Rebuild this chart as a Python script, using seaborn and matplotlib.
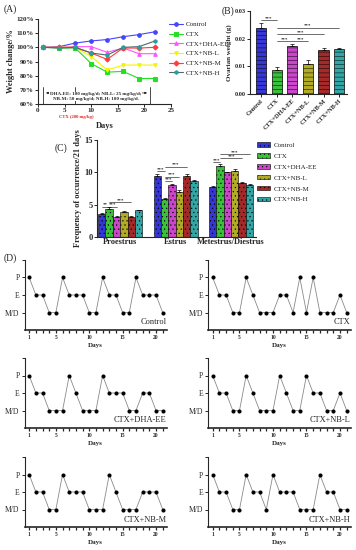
import numpy as np
import pandas as pd
import matplotlib
matplotlib.use("Agg")
import matplotlib.pyplot as plt
import seaborn as sns

sns.set_style("ticks")
plt.rcParams['font.family'] = ['Liberation Serif', 'DejaVu Serif']
plt.rcParams['hatch.linewidth'] = 0.35
plt.rcParams['axes.linewidth'] = 0.8

groups = ['Control', 'CTX', 'CTX+DHA-EE', 'CTX+NB-L', 'CTX+NB-M', 'CTX+NB-H']
bar_colors = ['#1c1cf0', '#22d822', '#e030e0', '#c8c010', '#b81414', '#20b8b8']
line_colors = ['#4444ff', '#22e022', '#ff55ff', '#f4f400', '#ff3c3c', '#2a9e9e']
line_markers = ['o', 's', '^', 'v', 'D', 'h']

# ---------------- (A) weight change ----------------
weigh_days = [1, 4, 7, 10, 13, 16, 19, 22]
w_control = [100, 100.5, 103, 104.5, 105.5, 107.5, 109, 111]
w_ctx = [100, 99.5, 99.5, 88.5, 82.5, 83, 78, 78]
w_dha = [100, 100, 100.5, 100.5, 96.5, 99.5, 95.5, 95.5]
w_nbl = [100, 100, 100, 93.5, 84, 87.5, 87.5, 87.5]
w_nbm = [100, 100, 100, 96, 91.5, 99.5, 99.5, 100]
w_nbh = [100, 99.5, 100, 96, 94.5, 100, 100.5, 104.5]

# ---------------- (B) ovarian weight ----------------
ov_weight = [0.0240, 0.0088, 0.0175, 0.0107, 0.0160, 0.0163]
ov_err = [0.0016, 0.0008, 0.0006, 0.0015, 0.0005, 0.0003]

# ---------------- (C) estrous phase frequency ----------------
phases = ['Proestrus', 'Estrus', 'Metestrus/Diestrus']
c_control = [3.6, 9.5, 7.8]
c_ctx = [4.3, 5.8, 11.0]
c_dha = [3.1, 8.0, 10.0]
c_nbl = [3.8, 7.0, 10.2]
c_nbm = [3.1, 9.5, 8.3]
c_nbh = [4.1, 8.7, 8.1]
c_err_control = [0.1, 0.2, 0.15]
c_err_ctx = [0.3, 0.3, 0.3]
c_err_dha = [0.1, 0.25, 0.1]
c_err_nbl = [0.15, 0.2, 0.3]
c_err_nbm = [0.1, 0.2, 0.15]
c_err_nbh = [0.1, 0.15, 0.1]

# ---------------- (D) estrous cycles (3=P, 2=E, 1=M/D) ----------------
cycle_days = list(range(1, 22))
stage_labels = ['M/D', 'E', 'P']
cyc_control = [3, 2, 2, 1, 1, 3, 2, 2, 2, 1, 1, 3, 2, 2, 1, 1, 3, 2, 2, 2, 1]
cyc_ctx = [3, 2, 2, 1, 1, 3, 2, 1, 1, 1, 2, 2, 1, 3, 1, 3, 1, 1, 1, 2, 1]
cyc_dha = [3, 2, 2, 1, 1, 1, 3, 2, 1, 1, 1, 3, 2, 2, 2, 1, 1, 2, 2, 1, 1]
cyc_nbl = [3, 2, 2, 1, 1, 3, 2, 1, 1, 1, 3, 2, 1, 1, 3, 2, 2, 1, 1, 2, 1]
cyc_nbm = [3, 2, 2, 1, 1, 3, 2, 2, 2, 1, 1, 1, 3, 2, 1, 1, 1, 2, 2, 2, 1]
cyc_nbh = [3, 2, 2, 1, 1, 3, 2, 2, 1, 3, 2, 2, 2, 1, 1, 1, 3, 2, 2, 1, 1]

W, H = 356, 550
fig = plt.figure(figsize=(W / 100, H / 100), dpi=100)


# axes placed by pixel box (left, top, right, bottom)
def px_axes(l, t, r, b):
    return fig.add_axes([l / W, 1 - b / H, (r - l) / W, (b - t) / H])


def sig_line(ax, x1, x2, y, txt, fs=3.5):
    ax.plot([x1, x2], [y, y], color='black', lw=0.4)
    ax.text((x1 + x2) / 2, y, txt, ha='center', va='bottom', fontsize=fs, fontweight='bold')


def bold_ticks(ax, fs):
    for t in ax.get_xticklabels() + ax.get_yticklabels():
        t.set_fontweight('bold')
        t.set_fontsize(fs)


# ------------------------- panel A -------------------------
axA = px_axes(38, 19, 171, 104)
weights = [w_control, w_ctx, w_dha, w_nbl, w_nbm, w_nbh]
for g, w, c, m in zip(groups, weights, line_colors, line_markers):
    lc = '#506868' if g == 'CTX+NB-H' else c
    sns.lineplot(x=weigh_days, y=w, color=lc, lw=0.8, ax=axA, label=g,
                 marker=m, markersize=2.6, markerfacecolor=c, markeredgecolor=c)
axA.set_xlim(0, 25)
axA.set_ylim(60, 120)
axA.set_xticks([0, 5, 10, 15, 20, 25])
axA.set_yticks([60, 70, 80, 90, 100, 110, 120])
axA.set_yticklabels([f'{v}%' for v in [60, 70, 80, 90, 100, 110, 120]])
axA.tick_params(length=2, width=0.7, pad=1)
bold_ticks(axA, 5)
axA.set_xlabel('Days', fontsize=6, fontweight='bold', labelpad=6)
axA.set_ylabel('Weight change/%', fontsize=6, fontweight='bold', labelpad=1)
sns.despine(ax=axA)
for xv in [1, 7, 21]:
    axA.plot([xv, xv], [60, 72], color='black', lw=0.5)
axA.annotate('', xy=(1, 67.8), xytext=(21, 67.8),
             arrowprops=dict(arrowstyle='<|-|>', lw=0.4, color='black', mutation_scale=3))
axA.text(10.8, 65.5, 'DHA-EE: 100 mg/kg/d; NB-L: 25 mg/kg/d;\nNB-M: 50 mg/kg/d; NB-H: 100 mg/kg/d.',
         ha='center', va='center', fontsize=3.6, fontweight='bold', linespacing=1.2,
         bbox=dict(facecolor='white', edgecolor='none', pad=0.3))
axA.text(7.2, 50.8, 'CTX (200 mg/kg)', ha='center', va='center', fontsize=3.3,
         fontweight='bold', color='#e02020', clip_on=False)
hA, lA = axA.get_legend_handles_labels()
axA.legend(hA, lA, loc='upper left', bbox_to_anchor=(166 / W, 1 - 18 / H),
           bbox_transform=fig.transFigure, frameon=False, fontsize=5,
           handlelength=2.0, labelspacing=0.55, handletextpad=0.4, borderpad=0)

# ------------------------- panel B -------------------------
axB = px_axes(250, 11, 347, 94)
sns.barplot(x=groups, y=ov_weight, hue=groups, palette=bar_colors, legend=False,
            width=0.65, edgecolor='black', linewidth=0.5, hatch='----', ax=axB)
axB.errorbar(range(len(groups)), ov_weight, yerr=[[0] * len(groups), ov_err],
             fmt='none', ecolor='black', elinewidth=0.5, capsize=1.5, capthick=0.5)
axB.set_xlim(-0.7, 5.5)
axB.set_ylim(0, 0.03)
axB.set_yticks([0, 0.01, 0.02, 0.03])
axB.set_yticklabels(['0.00', '0.01', '0.02', '0.03'])
axB.tick_params(length=2, width=0.7, pad=1)
axB.set_xticks(range(len(groups)))
axB.set_xticklabels(groups, rotation=45, ha='right', rotation_mode='anchor')
bold_ticks(axB, 4.6)
axB.set_ylabel('Ovarian weight (g)', fontsize=5, fontweight='bold', labelpad=2)
sns.despine(ax=axB)
sig_line(axB, 0, 1, 0.0267, '***')
sig_line(axB, 1, 5, 0.0240, '***')
sig_line(axB, 1, 4, 0.0216, '***')
sig_line(axB, 1, 2, 0.0190, '***')
sig_line(axB, 2, 3, 0.0190, '***')

# ------------------------- panel C -------------------------
axC = px_axes(97, 140, 256, 237)
freqs = [c_control, c_ctx, c_dha, c_nbl, c_nbm, c_nbh]
errs = [c_err_control, c_err_ctx, c_err_dha, c_err_nbl, c_err_nbm, c_err_nbh]
df_c = pd.DataFrame({'phase': phases * 6,
                     'group': np.repeat(groups, 3),
                     'freq': np.concatenate(freqs)})
sns.barplot(data=df_c, x='phase', y='freq', hue='group', palette=bar_colors,
            width=0.8, edgecolor='black', linewidth=0.4, hatch='....', ax=axC)
centers = []
for cont, f, e in zip(axC.containers, freqs, errs):
    xs = [b.get_x() + b.get_width() / 2 for b in cont]
    centers.append(xs)
    axC.errorbar(xs, f, yerr=[[0] * 3, e], fmt='none', ecolor='black',
                 elinewidth=0.5, capsize=1.2, capthick=0.5)
axC.set_xlim(-0.42, 2.45)
axC.set_ylim(0, 15)
axC.set_yticks([0, 5, 10, 15])
axC.tick_params(length=2, width=0.7, pad=1)
axC.tick_params(axis='x', length=0)
bold_ticks(axC, 6)
axC.set_xlabel('')
axC.set_ylabel('Frequency of occurrence/21 days', fontsize=6, fontweight='bold', labelpad=2)
sns.despine(ax=axC)
# significance marks: (phase, group a, group b, height, text)
c_sig = [(0, 0, 1, 4.7, '**'), (0, 1, 2, 4.7, '***'), (0, 1, 4, 5.4, '***'),
         (1, 0, 1, 10.2, '***'), (1, 1, 2, 8.6, '***'), (1, 1, 3, 9.3, '***'),
         (1, 1, 4, 10.9, '***'),
         (2, 0, 1, 11.6, '***'), (2, 1, 4, 12.2, '***'), (2, 1, 5, 12.8, '***')]
for p, a, b, y, txt in c_sig:
    sig_line(axC, centers[a][p], centers[b][p], y, txt)
hC, lC = axC.get_legend_handles_labels()
axC.legend(hC, lC, loc='upper left', bbox_to_anchor=(254 / W, 1 - 139 / H),
           bbox_transform=fig.transFigure, frameon=False, fontsize=5,
           handlelength=1.8, handleheight=0.6, labelspacing=0.75, handletextpad=0.6,
           borderpad=0)

# ------------------------- panel D -------------------------
cycles = [cyc_control, cyc_ctx, cyc_dha, cyc_nbl, cyc_nbm, cyc_nbh]
row_bottoms = [330, 428, 527]
col_lr = [(24.5, 166.7), (208, 350.7)]
for i, (g, cyc) in enumerate(zip(groups, cycles)):
    l, r = col_lr[i % 2]
    b = row_bottoms[i // 2]
    ax = px_axes(l, b - 70, r, b)
    sns.lineplot(x=cycle_days, y=cyc, color='#8a8a8a', lw=0.6, ax=ax,
                 marker='o', markersize=2.2, markerfacecolor='black', markeredgecolor='black')
    ax.set_xlim(0.3, 21.6)
    ax.set_ylim(0, 4)
    ax.set_yticks([1, 2, 3, 4])
    ax.set_yticklabels(stage_labels + [''], fontsize=5.5)
    ax.set_xticks(cycle_days)
    ax.set_xticklabels([str(d) if d in (1, 5, 10, 15, 20) else '' for d in cycle_days])
    for t in ax.get_xticklabels():
        t.set_fontsize(4)
        t.set_fontweight('bold')
    ax.tick_params(axis='x', length=2.5, width=0.9, pad=1)
    ax.tick_params(axis='y', length=2.5, width=0.7, pad=1)
    ax.spines['bottom'].set_linewidth(1.2)
    ax.set_xlabel('Days', fontsize=5, fontweight='bold', labelpad=2)
    ax.set_ylabel('')
    sns.despine(ax=ax)
    ax.text(1.0, 0.05, g, transform=ax.transAxes, ha='right', va='bottom', fontsize=6)

# panel letters
for txt, x, y in [('(A)', 4, 9), ('(B)', 222, 11), ('(C)', 55, 148), ('(D)', 4, 258)]:
    fig.text(x / W, 1 - y / H, txt, fontsize=7, ha='left', va='center')

fig.savefig('out.png', dpi=100)
